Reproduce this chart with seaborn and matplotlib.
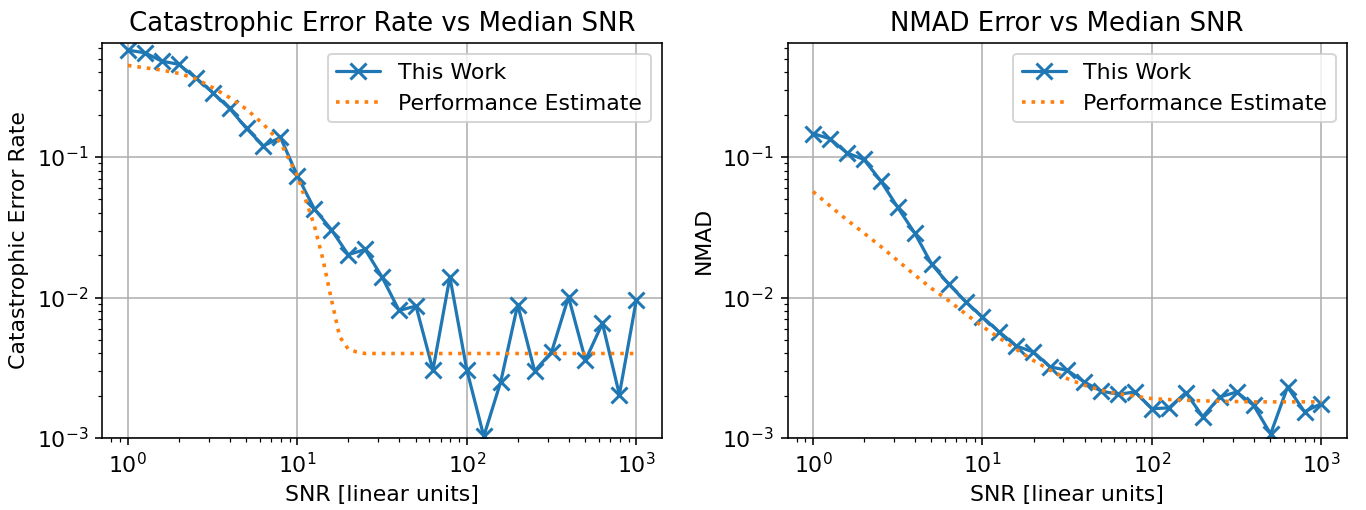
import numpy as np
import pandas as pd
import matplotlib
matplotlib.use('Agg')
import matplotlib.pyplot as plt
import seaborn as sns

# SNR grid (10 points per decade, 1 .. 1000)
snr = [1.0, 1.259, 1.585, 1.995, 2.512, 3.162, 3.981, 5.012, 6.310, 7.943,
       10.0, 12.59, 15.85, 19.95, 25.12, 31.62, 39.81, 50.12, 63.10, 79.43,
       100.0, 125.9, 158.5, 199.5, 251.2, 316.2, 398.1, 501.2, 631.0, 794.3,
       1000.0]

# catastrophic error rate, measured
cat_work = [0.577, 0.552, 0.482, 0.457, 0.367, 0.288, 0.222, 0.160, 0.120, 0.138,
            0.0737, 0.0428, 0.0305, 0.0202, 0.022, 0.0140, 0.0081, 0.0087, 0.00305, 0.0140,
            0.00305, 0.00103, 0.00252, 0.0089, 0.0030, 0.0041, 0.0101, 0.00359, 0.00655, 0.00204,
            0.0096]

# catastrophic error rate, estimate (denser in the steep part)
cat_est_snr = [1.0, 1.259, 1.585, 1.995, 2.512, 3.162, 3.981, 5.012, 6.310, 7.943,
               10.0, 11.22, 12.59, 14.13, 15.85, 17.78, 19.95, 22.39, 25.12, 31.62,
               50.12, 100.0, 199.5, 501.2, 1000.0]
cat_est = [0.449, 0.432, 0.416, 0.394, 0.361, 0.312, 0.265, 0.219, 0.171, 0.127,
           0.0737, 0.049, 0.0326, 0.0189, 0.0098, 0.00526, 0.0043, 0.0041, 0.0040, 0.0040,
           0.0040, 0.0040, 0.0040, 0.0040, 0.0040]

# NMAD, measured
nmad_work = [0.147, 0.135, 0.107, 0.0962, 0.0676, 0.0438, 0.0288, 0.0173, 0.0125, 0.00937,
             0.00726, 0.00568, 0.00452, 0.00410, 0.00321, 0.00304, 0.00251, 0.00216, 0.00205, 0.00213,
             0.00162, 0.00164, 0.00211, 0.00142, 0.00196, 0.00213, 0.00171, 0.00107, 0.00231, 0.00154,
             0.00176]

# NMAD, estimate
nmad_est = [0.0568, 0.0449, 0.0357, 0.0288, 0.0231, 0.0183, 0.0145, 0.0116, 0.00952, 0.00766,
            0.00623, 0.00515, 0.00428, 0.00357, 0.00304, 0.00265, 0.00238, 0.00219, 0.00207, 0.00199,
            0.00191, 0.00188, 0.00186, 0.00184, 0.00183, 0.00182, 0.00181, 0.00181, 0.00181, 0.00181,
            0.00181]

sns.set_style('ticks')
plt.rcParams['font.family'] = ['DejaVu Sans']
plt.rcParams['text.color'] = 'black'
plt.rcParams['axes.labelcolor'] = 'black'
plt.rcParams['xtick.color'] = 'black'
plt.rcParams['ytick.color'] = 'black'

blue = '#1f77b4'
orange = '#ff7f0e'

fig, axes = plt.subplots(1, 2, figsize=(1366 / 144, 510 / 144), dpi=144)
fig.subplots_adjust(left=0.075, right=0.986, bottom=0.141, top=0.916, wspace=0.225)

panels = [
    (axes[0], snr, cat_work, cat_est_snr, cat_est,
     "Catastrophic Error Rate vs Median SNR", "Catastrophic Error Rate"),
    (axes[1], snr, nmad_work, snr, nmad_est,
     "NMAD Error vs Median SNR", "NMAD"),
]

for ax, x_w, y_w, x_e, y_e, title, ylabel in panels:
    df_w = pd.DataFrame({'snr': x_w, 'val': y_w})
    df_e = pd.DataFrame({'snr': x_e, 'val': y_e})
    sns.lineplot(data=df_w, x='snr', y='val', ax=ax, color=blue, marker='x',
                 markersize=8, markeredgewidth=1.5, markeredgecolor=blue,
                 linewidth=1.6, label='This Work')
    sns.lineplot(data=df_e, x='snr', y='val', ax=ax, color=orange, linestyle=':',
                 linewidth=1.8, label='Performance Estimate')
    ax.set_xscale('log')
    ax.set_yscale('log')
    ax.set_ylim(1e-3, 0.65)
    ax.grid(True, which='major', color='#b0b0b0', linewidth=0.8)
    ax.set_title(title, fontsize=13)
    ax.set_xlabel("SNR [linear units]", fontsize=11)
    ax.set_ylabel(ylabel, fontsize=11)
    ax.tick_params(labelsize=11)
    for s in ax.spines.values():
        s.set_visible(True)
        s.set_color('black')
    ax.legend(loc='upper right', fontsize=11)

fig.savefig('out.png', dpi=144)
